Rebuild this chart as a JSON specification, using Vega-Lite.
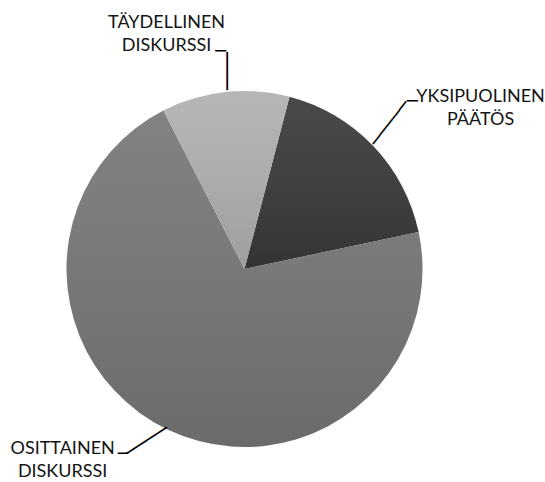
{
  "$schema": "https://vega.github.io/schema/vega-lite/v6.json",
  "width": 489,
  "height": 426,
  "autosize": {"type": "none"},
  "padding": {"left": 0, "top": 56, "right": 56, "bottom": 0},
  "background": "white",
  "config": {"view": {"stroke": null}},
  "data": {
    "values": [
      {"cat": "YKSIPUOLINEN PÄÄTÖS", "share": 17.6},
      {"cat": "OSITTAINEN DISKURSSI", "share": 70.8},
      {"cat": "TÄYDELLINEN DISKURSSI", "share": 11.6}
    ]
  },
  "encoding": {
    "theta": {"field": "share", "type": "quantitative", "stack": true, "scale": {"range": [1.3614, 7.6446]}},
    "detail": {"field": "cat", "type": "nominal"}
  },
  "layer": [
    {
      "mark": {"type": "arc", "outerRadius": 178, "stroke": null},
      "encoding": {
        "color": {
          "field": "cat",
          "type": "nominal",
          "legend": null,
          "scale": {
            "domain": ["OSITTAINEN DISKURSSI", "TÄYDELLINEN DISKURSSI", "YKSIPUOLINEN PÄÄTÖS"],
            "range": ["#777777", "#b0b0b0", "#3a3a3a"]
          }
        }
      }
    },
    {
      "mark": {
        "type": "arc",
        "outerRadius": 178,
        "stroke": null,
        "fill": {
          "gradient": "linear",
          "x1": 0, "y1": 0, "x2": 0, "y2": 1,
          "stops": [
            {"offset": 0, "color": "rgba(255,255,255,0.08)"},
            {"offset": 1, "color": "rgba(0,0,0,0.1)"}
          ]
        }
      }
    },
    {
      "mark": {"type": "text", "radius": 285.4, "thetaOffset": 0.1655, "dy": -11.5, "fontSize": 18, "lineHeight": 23, "lineBreak": " ", "align": "center", "baseline": "middle", "font": "Lato", "fill": "#141414"},
      "encoding": {"text": {"condition": {"test": "datum.cat === 'YKSIPUOLINEN PÄÄTÖS'", "field": "cat"}, "value": ""}}
    },
    {
      "mark": {"type": "text", "radius": 264.2, "thetaOffset": 0.3152, "dy": -11.5, "fontSize": 18, "lineHeight": 23, "lineBreak": " ", "align": "center", "baseline": "middle", "font": "Lato", "fill": "#141414"},
      "encoding": {"text": {"condition": {"test": "datum.cat === 'OSITTAINEN DISKURSSI'", "field": "cat"}, "value": ""}}
    },
    {
      "mark": {"type": "text", "radius": 247, "thetaOffset": -0.2122, "dy": -11.5, "fontSize": 18, "lineHeight": 23, "lineBreak": " ", "align": "center", "baseline": "middle", "font": "Lato", "fill": "#141414"},
      "encoding": {"text": {"condition": {"test": "datum.cat === 'TÄYDELLINEN DISKURSSI'", "field": "cat"}, "value": ""}}
    },
    {
      "mark": {"type": "text", "radius": 198.8, "thetaOffset": 0.0164, "angle": 90, "fontSize": 21, "fontWeight": "bold", "align": "center", "baseline": "middle", "font": "DejaVu Sans", "fill": "#000000"},
      "encoding": {"text": {"condition": {"test": "datum.cat === 'TÄYDELLINEN DISKURSSI'", "value": "───"}, "value": ""}}
    },
    {
      "mark": {"type": "text", "radius": 218.3, "thetaOffset": 0, "angle": 0, "fontSize": 18, "fontWeight": "bold", "align": "center", "baseline": "middle", "font": "DejaVu Sans", "fill": "#000000"},
      "encoding": {"text": {"condition": {"test": "datum.cat === 'TÄYDELLINEN DISKURSSI'", "value": "─"}, "value": ""}}
    },
    {
      "mark": {"type": "text", "radius": 206, "thetaOffset": -0.0213, "angle": -52, "fontSize": 18, "fontWeight": "bold", "align": "center", "baseline": "middle", "font": "DejaVu Sans", "fill": "#000000"},
      "encoding": {"text": {"condition": {"test": "datum.cat === 'YKSIPUOLINEN PÄÄTÖS'", "value": "─────"}, "value": ""}}
    },
    {
      "mark": {"type": "text", "radius": 236.7, "thetaOffset": -0.0195, "angle": 0, "fontSize": 18, "fontWeight": "bold", "align": "center", "baseline": "middle", "font": "DejaVu Sans", "fill": "#000000"},
      "encoding": {"text": {"condition": {"test": "datum.cat === 'YKSIPUOLINEN PÄÄTÖS'", "value": "─"}, "value": ""}}
    },
    {
      "mark": {"type": "text", "radius": 197.6, "thetaOffset": 0.0709, "angle": -33, "fontSize": 19.7, "fontWeight": "bold", "align": "center", "baseline": "middle", "font": "DejaVu Sans", "fill": "#000000"},
      "encoding": {"text": {"condition": {"test": "datum.cat === 'OSITTAINEN DISKURSSI'", "value": "────"}, "value": ""}}
    },
    {
      "mark": {"type": "text", "radius": 221.4, "thetaOffset": 0.137, "angle": 0, "fontSize": 17, "fontWeight": "bold", "align": "center", "baseline": "middle", "font": "DejaVu Sans", "fill": "#000000"},
      "encoding": {"text": {"condition": {"test": "datum.cat === 'OSITTAINEN DISKURSSI'", "value": "─"}, "value": ""}}
    }
  ]
}
